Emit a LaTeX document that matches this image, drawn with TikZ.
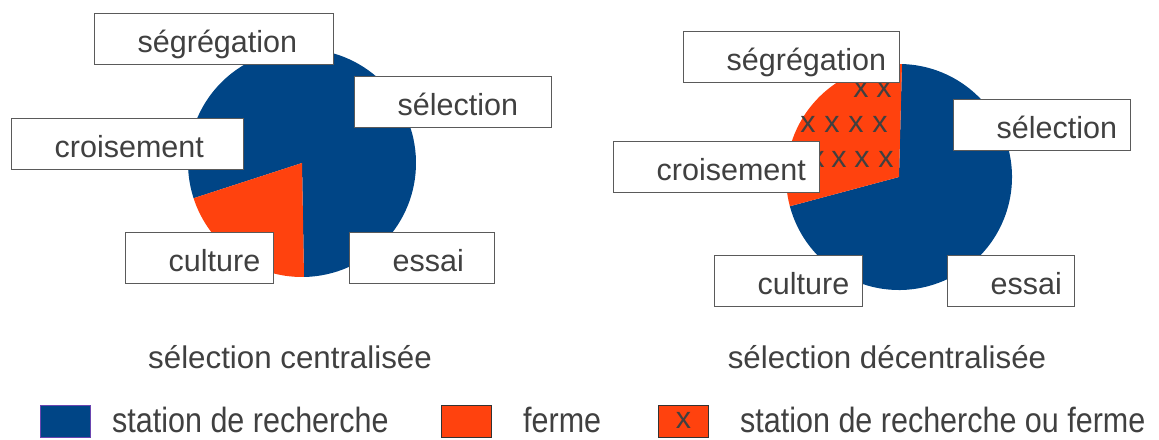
\documentclass[tikz,border=0pt]{standalone}
\usepackage{fontspec}
\setmainfont{Liberation Sans}
\usetikzlibrary{math}
\definecolor{stationblue}{HTML}{004586}
\definecolor{fermeorange}{HTML}{FF420E}
\definecolor{labelgray}{HTML}{404040}
\definecolor{boxgray}{HTML}{5A5A5A}
\definecolor{keypurple}{HTML}{6A45B0}

\begin{document}
\begin{tikzpicture}[
		x=1pt,y=1pt,
		labeltext/.style={font=\fontsize{30.5}{36}\selectfont,text=labelgray},
		stagebox/.style={labeltext,draw=boxgray,line width=1.4pt,fill=white,
			anchor=north west,inner xsep=0pt,inner ysep=0pt,
			minimum height=51pt,text width=#1,align=left,
			text height=26.2pt,text depth=0pt,
			execute at begin node={\hspace*{43pt}}},
		piecaption/.style={labeltext,font=\fontsize{31.3}{36}\selectfont,anchor=base},
		legendkey/.style={draw=#1,line width=1pt,anchor=north west,
			minimum width=50pt,minimum height=32pt,inner sep=0pt},
		legendtext/.style={labeltext,anchor=base west,inner sep=0pt,yscale=1.15,transform shape},
		crossmark/.style={labeltext,anchor=base,inner sep=0pt}
	]
	\useasboundingbox (0,0) rectangle (1159,439);
	\tikzmath{\rL=114; \rR=113;}
	%
	% centralised selection
	\begin{scope}
		\coordinate (pie_L) at (302,276);
		\fill[stationblue] (pie_L) -- ++(271:\rL) arc[start angle=271,end angle=558,radius=\rL] -- cycle;
		\fill[fermeorange] (pie_L) -- ++(198:\rL) arc[start angle=198,end angle=271,radius=\rL] -- cycle;
		\node[stagebox=239pt] (seg_L)  at (94,426)  {ségrégation};
		\node[stagebox=197pt] (sel_L)  at (354,363) {sélection};
		\node[stagebox=232pt] (croi_L) at (11,321)  {croisement};
		\node[stagebox=148pt] (cult_L) at (125,207) {culture};
		\node[stagebox=145pt] (ess_L)  at (349,207) {essai};
		\node[piecaption] (cap_L) at (290,70) {sélection centralisée};
	\end{scope}
	%
	% decentralised selection
	\begin{scope}
		\coordinate (pie_R) at (899,262);
		\fill[stationblue] (pie_R) -- ++(195:\rR) arc[start angle=195,end angle=448.5,radius=\rR] -- cycle;
		\fill[fermeorange] (pie_R) -- ++(88.5:\rR) arc[start angle=88.5,end angle=195,radius=\rR] -- cycle;
		\foreach \cx/\cy [count=\i] in {861/341,884/341,808/306,832/306,856/306,880/306,817/271,839/271,862/271,886/271}
			\node[crossmark] (x_\i) at (\cx,\cy) {x};
		\node[stagebox=216pt] (seg_R)  at (683,408) {ségrégation};
		\node[stagebox=177pt] (sel_R)  at (953,340) {sélection};
		\node[stagebox=206pt] (croi_R) at (613,298) {croisement};
		\node[stagebox=148pt] (cult_R) at (714,184) {culture};
		\node[stagebox=127pt] (ess_R)  at (947,184) {essai};
		\node[piecaption] (cap_R) at (887,70) {sélection décentralisée};
	\end{scope}
	%
	% legend
	\node[legendkey=keypurple,fill=stationblue] (key_station) at (40,34) {};
	\node[legendtext] (txt_station) at (112,6) {station de recherche};
	\node[legendkey=black!80,fill=fermeorange] (key_ferme) at (441,34) {};
	\node[legendtext] (txt_ferme) at (523,6) {ferme};
	\node[legendkey=black!80,fill=fermeorange,labeltext,text depth=2pt] (key_both) at (658,34) {x};
	\node[legendtext] (txt_both) at (740,6) {station de recherche ou ferme};
\end{tikzpicture}
\end{document}
